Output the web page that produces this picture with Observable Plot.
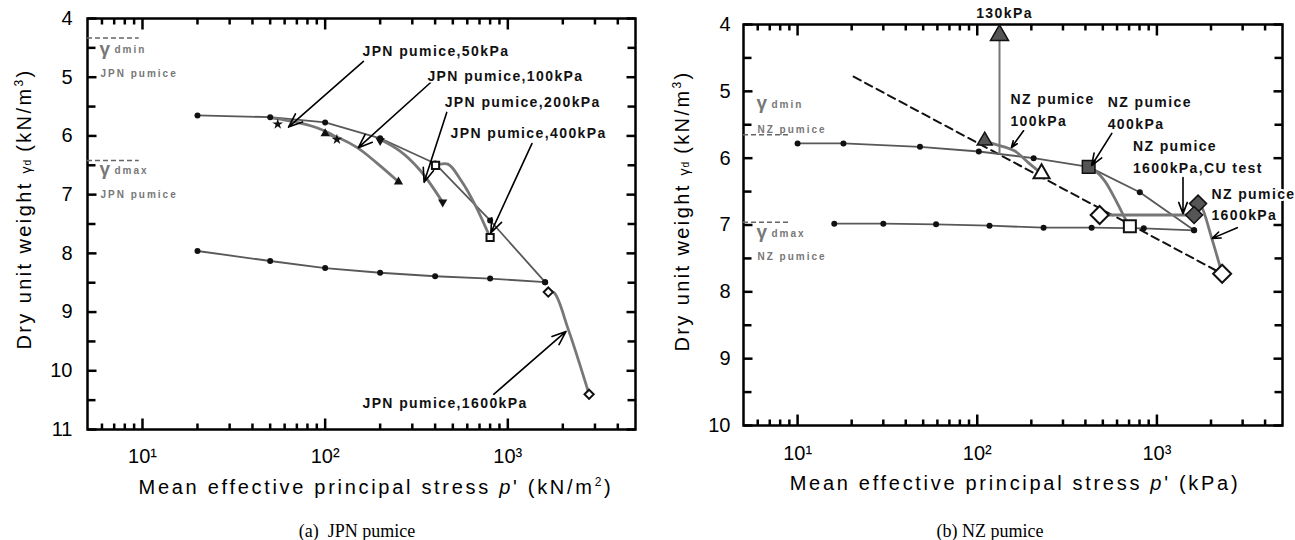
<!DOCTYPE html>
<html><head><meta charset="utf-8">
<script src="https://cdn.jsdelivr.net/npm/d3@7"></script>
<script src="https://cdn.jsdelivr.net/npm/@observablehq/plot@0.6"></script>
<style>
body{margin:0;background:#fff;}
#fig{position:relative;width:1295px;height:540px;font-family:"Liberation Sans",Arial,sans-serif;overflow:hidden;}
.panel{position:absolute;top:0;}
.lbl{position:absolute;white-space:nowrap;transform:translate(-50%,-50%);color:#000;}
.ttl{font-size:20px;letter-spacing:2.7px;}
.ytl{font-size:20px;letter-spacing:2.4px;transform:translate(-50%,-50%) rotate(-90deg);}
.cap{font-family:"Liberation Serif","Times New Roman",serif;font-size:18px;}
sup{font-size:12px;vertical-align:8px;line-height:0;}
.g{font-size:14px;letter-spacing:1px;}
svg g[font-size="14"] text{letter-spacing:1.4px}
svg g[font-size="10"] text{letter-spacing:2px}
</style></head><body><div id="fig"></div>
<script>
// ---------------- data: (a) JPN pumice ----------------
const jpnLooseP = [20, 50, 100, 200, 400, 800, 1600];
const jpnLooseG = [5.65, 5.68, 5.77, 6.04, 6.47, 7.44, 8.49];
const jpnDenseP = [20, 50, 100, 200, 400, 800, 1600];
const jpnDenseG = [7.96, 8.13, 8.25, 8.33, 8.39, 8.43, 8.49];
const jpn50P = [50, 60, 75, 90, 105, 116];
const jpn50G = [5.69, 5.73, 5.79, 5.86, 5.95, 6.03];
const jpn100P = [100, 120, 150, 190, 252];
const jpn100G = [5.96, 6.04, 6.20, 6.45, 6.78];
const jpn200P = [200, 255, 330, 440];
const jpn200G = [6.06, 6.25, 6.58, 7.13];
const jpn400P = [402, 470, 555, 666, 800];
const jpn400G = [6.50, 6.48, 6.76, 7.19, 7.73];
const jpn1600P = [1665, 1790, 2140, 2786];
const jpn1600G = [8.66, 8.67, 9.29, 10.40];
const jpnStarP = [55, 116], jpnStarG = [5.80, 6.06];
const jpnTriUpP = [100, 252], jpnTriUpG = [5.96, 6.78];
const jpnTriDnP = [200, 440], jpnTriDnG = [6.08, 7.13];
const jpnSqP = [402, 800], jpnSqG = [6.50, 7.73];
const jpnDiaP = [1665, 2786], jpnDiaG = [8.66, 10.40];
const jpnGammaMin = 4.33, jpnGammaMax = 6.42;
const jpnLabels = ["JPN pumice,50kPa", "JPN pumice,100kPa", "JPN pumice,200kPa", "JPN pumice,400kPa", "JPN pumice,1600kPa"];

// ---------------- data: (b) NZ pumice ----------------
const nzLooseP = [10, 18, 48, 102, 206, 417, 803, 1610];
const nzLooseG = [5.78, 5.78, 5.83, 5.90, 6.00, 6.13, 6.51, 7.08];
const nzDenseP = [16, 30, 59, 117, 234, 433, 845, 1610];
const nzDenseG = [6.98, 6.98, 6.99, 7.01, 7.04, 7.04, 7.05, 7.08];
const nz100P = [110, 125, 161, 193, 228];
const nz100G = [5.74, 5.79, 5.89, 6.07, 6.23];
const nz130P = [133, 133];
const nz130G = [5.93, 4.16];
const nz400P = [417, 450, 512, 598, 661, 707];
const nz400G = [6.13, 6.18, 6.34, 6.66, 6.89, 7.02];
const nzCUP = [1610, 480];
const nzCUG = [6.85, 6.85];
const nz1600P = [1694, 1780, 2020, 2307];
const nz1600G = [6.68, 6.74, 7.20, 7.73];
const nzCslP = [20.5, 2307];
const nzCslG = [4.78, 7.73];
const nzGammaMin = 5.65, nzGammaMax = 6.96;

// ---------------- axes ----------------
const xMin = 5, xMax = 5000;
const xMajor = [10, 100, 1000];
const xMajorLabels = ["10\u00B9", "10\u00B2", "10\u00B3"];
const xMinor = [6, 7, 8, 9, 20, 30, 40, 50, 60, 70, 80, 90, 200, 300, 400, 500, 600, 700, 800, 900, 2000, 3000, 4000];
const yTicksA = [4, 5, 6, 7, 8, 9, 10, 11];
const yMinorA = [4.5, 5.5, 6.5, 7.5, 8.5, 9.5, 10.5];
const yTicksB = [4, 5, 6, 7, 8, 9, 10];
const yMinorB = [4.5, 5.5, 6.5, 7.5, 8.5, 9.5];

const tbl = (P, G) => P.map((p, i) => ({p, g: G[i]}));
const sym = f => ({draw(c, size) { const r = Math.sqrt(size / Math.PI); f(c, r); }});
const triUp = sym((c, r) => { c.moveTo(0, -1.155 * r); c.lineTo(r, 0.577 * r); c.lineTo(-r, 0.577 * r); c.closePath(); });
const triDown = sym((c, r) => { c.moveTo(0, 1.155 * r); c.lineTo(r, -0.577 * r); c.lineTo(-r, -0.577 * r); c.closePath(); });
const square = sym((c, r) => { c.moveTo(-r, -r); c.lineTo(r, -r); c.lineTo(r, r); c.lineTo(-r, r); c.closePath(); });
const diamond = sym((c, r) => { c.moveTo(0, -r); c.lineTo(r, 0); c.lineTo(0, r); c.lineTo(-r, 0); c.closePath(); });
const tickSym = (ux, uy) => sym((c, r) => { c.moveTo(0, 0); c.lineTo(ux * r, uy * r); });
const tickL = tickSym(1, 0), tickR = tickSym(-1, 0), tickB = tickSym(0, -1), tickT = tickSym(0, 1);

const W = 647, H = 470;

function frameMarks(o) {
  const tk = {stroke: "black", strokeWidth: 2.5, fill: "none"};
  const tick = (vals, chan, pos, symbol, len) =>
    Plot.dot(vals, chan === "y" ? {x: () => pos, y: d => d, symbol, r: len, ...tk} : {x: d => d, y: () => pos, symbol, r: len, ...tk});
  return [
    Plot.frame({stroke: "black", strokeWidth: 2.5}),
    tick(o.yTicks, "y", xMin, tickL, 9),
    tick(o.yTicks, "y", xMax, tickR, 9),
    tick(o.yMinor, "y", xMin, tickL, 8),
    tick(o.yMinor, "y", xMax, tickR, 8),
    tick(xMajor, "x", o.yMax, tickB, 11),
    tick(xMajor, "x", o.yMin, tickT, 11),
    tick(xMinor, "x", o.yMax, tickB, 6),
    tick(xMinor, "x", o.yMin, tickT, 6),
    Plot.text(o.yTicks, {x: xMin, y: d => d, text: d => String(d), textAnchor: "end", dx: -o.ylPad, fontSize: 20}),
    Plot.text(xMajor, {x: d => d, y: o.yMax, text: (d, i) => xMajorLabels[i], dy: o.xlPad, fontSize: 20})
  ];
}

function plotPanel(o, marks) {
  return Plot.plot({
    width: W, height: H,
    marginLeft: o.ml, marginRight: o.mr, marginTop: o.mt, marginBottom: o.mb,
    style: {fontFamily: '"Liberation Sans", Arial, sans-serif', background: "transparent", overflow: "visible"},
    x: {type: "log", domain: [xMin, xMax], axis: null},
    y: {domain: [o.yMin, o.yMax], reverse: true, axis: null},
    marks: [...frameMarks(o), ...marks]
  });
}

const pathStyle = {x: "p", y: "g", stroke: "#777", strokeWidth: 2.8, curve: "catmull-rom"};
const nclStyle = {x: "p", y: "g", stroke: "#585858", strokeWidth: 1.8};
const arrowStyle = {stroke: "black", strokeWidth: 1.6, headLength: 14, headAngle: 42};
const grayTxt = {fill: "#777", fontWeight: "bold", textAnchor: "start"};

// ---------- panel A ----------
const oA = {ml: 87, mr: 12, mt: 18, mb: 41, yMin: 4, yMax: 11, yTicks: yTicksA, yMinor: yMinorA, ylPad: 15, xlPad: 27};
const jpnArrows = [
  {x1: 162, y1: 4.73, x2: 63, y2: 5.85},
  {x1: 378, y1: 5.09, x2: 152, y2: 6.20},
  {x1: 463, y1: 5.60, x2: 348, y2: 6.79},
  {x1: 1355, y1: 6.13, x2: 807, y2: 7.65},
  {x1: 837, y1: 10.40, x2: 2083, y2: 9.33}
];
const jpnLabelPos = [{p: 160, g: 4.57}, {p: 363, g: 4.98}, {p: 451, g: 5.43}, {p: 486, g: 5.96}, {p: 160, g: 10.56}];
const svgA = plotPanel(oA, [
  Plot.ruleY([jpnGammaMin, jpnGammaMax], {y: d => d, x1: xMin, x2: 9.6, stroke: "#666", strokeWidth: 1.5, strokeDasharray: "5,3"}),
  Plot.text([4.52, 6.57], {x: xMin, y: d => d, text: () => "γ", dx: 12, fontSize: 19, ...grayTxt}),
  Plot.text([4.52, 6.57], {x: xMin, y: d => d, text: (d, i) => i ? "dmax" : "dmin", dx: 27, dy: 1, fontSize: 10, ...grayTxt}),
  Plot.text([4.95, 7.0], {x: xMin, y: d => d, text: () => "JPN pumice", dx: 13, fontSize: 10, ...grayTxt}),
  Plot.line(tbl(jpnDenseP, jpnDenseG), nclStyle),
  Plot.line(tbl(jpnLooseP, jpnLooseG), nclStyle),
  Plot.line(tbl(jpn50P, jpn50G), pathStyle),
  Plot.line(tbl(jpn100P, jpn100G), pathStyle),
  Plot.line(tbl(jpn200P, jpn200G), pathStyle),
  Plot.line(tbl(jpn400P, jpn400G), pathStyle),
  Plot.line(tbl(jpn1600P, jpn1600G), pathStyle),
  Plot.dot(tbl(jpnDenseP, jpnDenseG), {x: "p", y: "g", r: 3, fill: "#111"}),
  Plot.dot(tbl(jpnLooseP, jpnLooseG), {x: "p", y: "g", r: 3, fill: "#111"}),
  Plot.dot(tbl(jpnStarP, jpnStarG), {x: "p", y: "g", symbol: "star", r: 3.4, fill: "#111"}),
  Plot.dot(tbl(jpnTriUpP, jpnTriUpG), {x: "p", y: "g", symbol: triUp, r: 4.6, fill: "#111"}),
  Plot.dot(tbl(jpnTriDnP, jpnTriDnG), {x: "p", y: "g", symbol: triDown, r: 4.6, fill: "#111"}),
  Plot.dot(tbl(jpnSqP, jpnSqG), {x: "p", y: "g", symbol: square, r: 3.6, fill: "white", stroke: "#111", strokeWidth: 2}),
  Plot.dot(tbl(jpnDiaP, jpnDiaG), {x: "p", y: "g", symbol: diamond, r: 4.6, fill: "white", stroke: "#111", strokeWidth: 2}),
  Plot.arrow(jpnArrows, {x1: "x1", y1: "y1", x2: "x2", y2: "y2", ...arrowStyle}),
  Plot.text(jpnLabelPos, {x: "p", y: "g", text: (d, i) => jpnLabels[i], textAnchor: "start", fontSize: 14, fontWeight: "bold", fill: "#111", stroke: "white", strokeWidth: 3})
]);

// ---------- panel B ----------
const oB = {ml: 95, mr: 13, mt: 24, mb: 45, yMin: 4, yMax: 10, yTicks: yTicksB, yMinor: yMinorB, ylPad: 13, xlPad: 28};
const nzArrows = [
  {x1: 181, y1: 5.59, x2: 155, y2: 5.84},
  {x1: 561, y1: 5.63, x2: 433, y2: 6.11},
  {x1: 1397, y1: 6.29, x2: 1397, y2: 6.83},
  {x1: 2800, y1: 7.04, x2: 2029, y2: 7.20}
];
const nzLabels = [
  {p: 153, g: 5.12, t: "NZ pumice"}, {p: 153, g: 5.45, t: "100kPa"},
  {p: 532, g: 5.17, t: "NZ pumice"}, {p: 532, g: 5.50, t: "400kPa"},
  {p: 735, g: 5.83, t: "NZ pumice"}, {p: 735, g: 6.16, t: "1600kPa,CU test"},
  {p: 2010, g: 6.54, t: "NZ pumice"}, {p: 2010, g: 6.86, t: "1600kPa"}
];
const svgB = plotPanel(oB, [
  Plot.ruleY([nzGammaMin, nzGammaMax], {y: d => d, x1: xMin, x2: 9.1, stroke: "#666", strokeWidth: 1.5, strokeDasharray: "5,3"}),
  Plot.text([5.18, 7.11], {x: xMin, y: d => d, text: () => "γ", dx: 13, fontSize: 19, ...grayTxt}),
  Plot.text([5.18, 7.11], {x: xMin, y: d => d, text: (d, i) => i ? "dmax" : "dmin", dx: 28, dy: 1, fontSize: 10, ...grayTxt}),
  Plot.text([5.57, 7.47], {x: xMin, y: d => d, text: () => "NZ pumice", dx: 14, fontSize: 10, ...grayTxt}),
  Plot.line(tbl(nzCslP, nzCslG), {x: "p", y: "g", stroke: "#111", strokeWidth: 2, strokeDasharray: "8,5"}),
  Plot.line(tbl(nzDenseP, nzDenseG), nclStyle),
  Plot.line(tbl(nzLooseP, nzLooseG), nclStyle),
  Plot.line(tbl(nz130P, nz130G), {x: "p", y: "g", stroke: "#777", strokeWidth: 2}),
  Plot.line(tbl(nz100P, nz100G), pathStyle),
  Plot.line(tbl(nz400P, nz400G), pathStyle),
  Plot.line(tbl(nzCUP, nzCUG), {...pathStyle, curve: "linear"}),
  Plot.line(tbl(nz1600P, nz1600G), pathStyle),
  Plot.dot(tbl(nzDenseP, nzDenseG), {x: "p", y: "g", r: 3, fill: "#111"}),
  Plot.dot(tbl(nzLooseP, nzLooseG), {x: "p", y: "g", r: 3, fill: "#111"}),
  Plot.dot(tbl([nz100P[0]], [nz100G[0]]), {x: "p", y: "g", symbol: triUp, r: 7.5, fill: "#555", stroke: "#111", strokeWidth: 1.5}),
  Plot.dot(tbl([nz130P[1]], [nz130G[1]]), {x: "p", y: "g", symbol: triUp, r: 9, fill: "#555", stroke: "#111", strokeWidth: 1.5}),
  Plot.dot(tbl([nz100P[4]], [nz100G[4]]), {x: "p", y: "g", symbol: triUp, r: 8, fill: "white", stroke: "#111", strokeWidth: 2}),
  Plot.dot(tbl([nz400P[0]], [nz400G[0]]), {x: "p", y: "g", symbol: square, r: 6.3, fill: "#555", stroke: "#111", strokeWidth: 1.5}),
  Plot.dot(tbl([nz400P[5]], [nz400G[5]]), {x: "p", y: "g", symbol: square, r: 6, fill: "white", stroke: "#111", strokeWidth: 2}),
  Plot.dot(tbl([nzCUP[1], nz1600P[3]], [nzCUG[1], nz1600G[3]]), {x: "p", y: "g", symbol: diamond, r: 9, fill: "white", stroke: "#111", strokeWidth: 2}),
  Plot.dot(tbl([nz1600P[0], nzCUP[0]], [nz1600G[0], nzCUG[0]]), {x: "p", y: "g", symbol: diamond, r: 8.5, fill: "#555", stroke: "#111", strokeWidth: 1.5}),
  Plot.arrow(nzArrows, {x1: "x1", y1: "y1", x2: "x2", y2: "y2", ...arrowStyle}),
  Plot.text(nzLabels, {x: "p", y: "g", text: "t", textAnchor: "start", fontSize: 14, fontWeight: "bold", fill: "#111", stroke: "white", strokeWidth: 4}),
  Plot.text(["130kPa"], {x: nz130P[0], y: oB.yMin, text: d => d, dx: 5, dy: -11, fontSize: 14, fontWeight: "bold", fill: "#111"})
]);

const fig = document.getElementById("fig");
svgA.classList.add("panel"); svgA.style.left = "0px";
svgB.classList.add("panel"); svgB.style.left = "648px";
fig.appendChild(svgA); fig.appendChild(svgB);

function addLabel(html, x, y, cls) {
  const d = document.createElement("div");
  d.className = "lbl " + cls;
  d.style.left = x + "px"; d.style.top = y + "px";
  d.innerHTML = html;
  fig.appendChild(d);
}
const yTitle = 'Dry unit weight <span class="g">γ<span style="font-size:10px;letter-spacing:0">d</span></span> (kN/m<sup>3</sup>)';
addLabel(yTitle, 24, 209, "ytl");
addLabel(yTitle, 682, 211, "ytl");
addLabel('Mean effective principal stress <i>p</i>\' (kN/m<sup>2</sup>)', 376, 487, "ttl");
addLabel('Mean effective principal stress <i>p</i>\' (kPa)', 1015, 483, "ttl");
addLabel('(a)&nbsp;&nbsp;JPN pumice', 357, 531, "cap");
addLabel('(b) NZ pumice', 990, 531, "cap");
</script></body></html>
